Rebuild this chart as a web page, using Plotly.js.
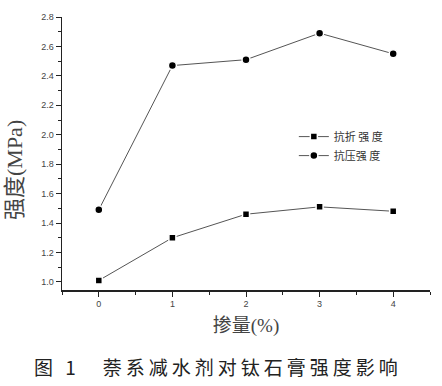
<!DOCTYPE html>
<html><head><meta charset="utf-8">
<script src="https://cdn.plot.ly/plotly-3.0.1.min.js"></script>
<style>html,body{margin:0;padding:0;background:#fff}#c{width:442px;height:386px}</style>
</head><body><div id="c"></div>
<script>
const dosage = [0, 1, 2, 3, 4];
const flexural = [1.01, 1.30, 1.46, 1.51, 1.48];
const compressive = [1.49, 2.47, 2.51, 2.69, 2.55];
const seriesNames = ['抗折 强 度', '抗压强 度'];
const xTitle = '掺量(%)';
const yTitle = '强度(MPa)';
const caption = '图 1　萘系减水剂对钛石膏强度影响';

const lineStyle = {color: '#555', width: 1};
const traces = [
  {x: dosage, y: flexural, name: seriesNames[0], mode: 'lines+markers', type: 'scatter',
   line: lineStyle, marker: {symbol: 'square', size: 7, color: '#000', line: {color: '#fff', width: 1.5}}},
  {x: dosage, y: compressive, name: seriesNames[1], mode: 'lines+markers', type: 'scatter',
   line: lineStyle, marker: {symbol: 'circle', size: 8, color: '#000', line: {color: '#fff', width: 1.5}}}
];
const axisCommon = {
  showgrid: false, zeroline: false, showline: true, linecolor: '#222', linewidth: 1.5,
  ticks: 'outside', ticklen: 5, tickwidth: 1, tickcolor: '#222',
  tickfont: {family: 'Liberation Sans, Arial', size: 9, color: '#444'}
};
const titleFont = {family: 'Liberation Serif, Noto Sans CJK SC', color: '#444'};
const layout = {
  width: 442, height: 386, paper_bgcolor: '#fff', plot_bgcolor: '#fff',
  margin: {l: 62, r: 12, t: 17, b: 96},
  showlegend: true,
  legend: {x: 0.63, y: 0.615, xanchor: 'left', yanchor: 'top', bgcolor: 'rgba(0,0,0,0)',
           font: {family: 'Noto Sans CJK SC', size: 11, color: '#333'}, tracegroupgap: 0, itemwidth: 30},
  xaxis: Object.assign({}, axisCommon, {range: [-0.5, 4.5], tickvals: dosage, ticktext: dosage.map(String),
    minor: {dtick: 0.5, tick0: -0.5, ticks: 'outside', ticklen: 3, tickcolor: '#222'},
    title: {text: xTitle, font: Object.assign({size: 19}, titleFont), standoff: 10}}),
  yaxis: Object.assign({}, axisCommon, {range: [0.945, 2.8], dtick: 0.2, tick0: 1.0, tickformat: '.1f',
    minor: {dtick: 0.1, ticks: 'outside', ticklen: 3, tickcolor: '#222'}}),
  annotations: [
    {text: yTitle, xref: 'paper', yref: 'paper', x: (14 - 62) / 368, y: (290 - 170) / 273,
     xanchor: 'center', yanchor: 'middle', textangle: -90, showarrow: false,
     font: Object.assign({size: 22}, titleFont)},
    {text: '<span style="letter-spacing:4px">' + caption + '</span>', xref: 'paper', yref: 'paper',
     x: (218 - 62) / 368, y: (290 - 366) / 273, xanchor: 'center', yanchor: 'middle',
     showarrow: false, font: {family: 'Noto Sans CJK SC', size: 19, color: '#222'}}]
};
Plotly.newPlot('c', traces, layout, {displayModeBar: false, staticPlot: true});
</script></body></html>
